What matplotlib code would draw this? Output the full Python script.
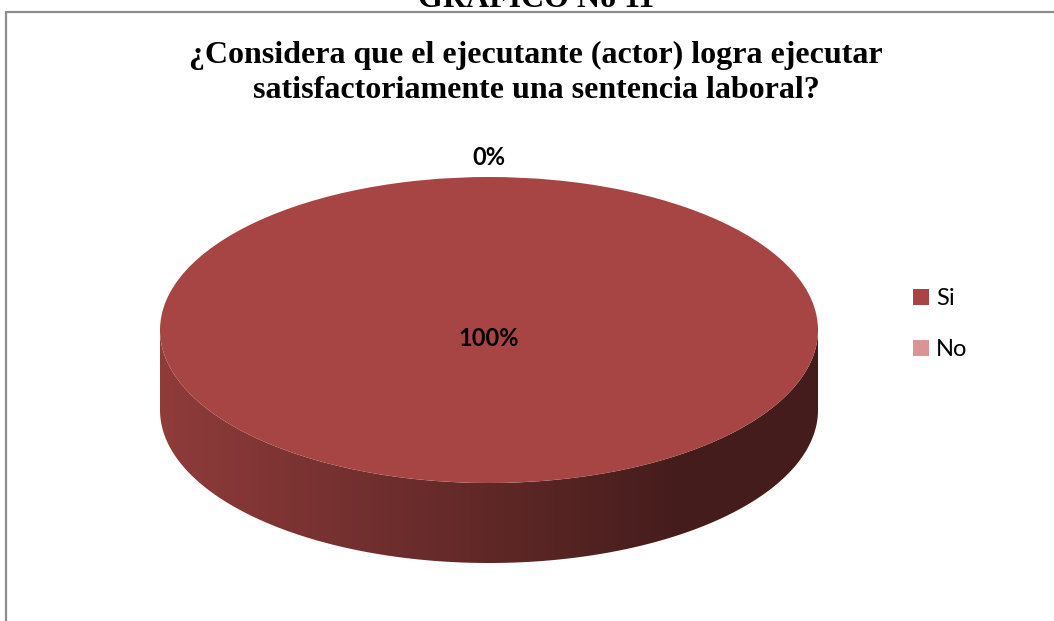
import numpy as np
import matplotlib
matplotlib.use("Agg")
import matplotlib.pyplot as plt
from matplotlib.patches import Polygon, Rectangle
from matplotlib.colors import to_rgb

# Data
labels = ["Si", "No"]
values = [100, 0]
colors = ["#A64544", "#D99594"]
title_lines = ["¿Considera que el ejecutante (actor) logra ejecutar",
               "satisfactoriamente una sentencia laboral?"]
header = "GRAFICO No 11"

W, H = 1054, 621
fig = plt.figure(figsize=(W / 100, H / 100), dpi=100)

# pie geometry in pixels (center, radii, depth of the 3d side)
cx, cy, rx, ry, depth = 489, 330, 329, 153, 80

ax = fig.add_axes([0, 0, 1, 1])
wedges, _ = ax.pie(values, colors=colors, startangle=90, counterclock=False,
                   radius=1, center=(0, 0), wedgeprops=dict(linewidth=0))
ax.set_aspect("auto")
ax.set_xlim((0 - cx) / rx, (W - cx) / rx)
ax.set_ylim((cy - H) / ry, (cy - 0) / ry)
ax.axis("off")

# side of the cylinder (front half), shaded with a gradient
d = depth / ry
t = np.linspace(np.pi, 2 * np.pi, 200)
top = np.column_stack([np.cos(t), np.sin(t)])
bot = np.column_stack([np.cos(t[::-1]), np.sin(t[::-1]) - d])
side = Polygon(np.vstack([top, bot]), closed=True, facecolor="none", edgecolor="none")
ax.add_patch(side)
base = np.array(to_rgb(colors[0]))
u = np.linspace(0, 1, 256)
shade = np.clip(0.86 - (0.86 - 0.42) * u / 0.78, 0.42, None)
grad = (base[None, :] * shade[:, None])[None, :, :]
im = ax.imshow(grad, extent=(-1, 1, -1 - d, 0), aspect="auto", zorder=0.5,
               interpolation="bilinear")
im.set_clip_path(side)
for w in wedges:
    w.set_zorder(1)

# percentage labels
total = sum(values)
pct = [v / total * 100 for v in values]
ax.text(0, (cy - 338) / ry, f"{pct[0]:.0f}%", ha="center", va="center",
        fontsize=17, fontweight="bold", family="Lato", zorder=3)
ax.text(0, 1.13, f"{pct[1]:.0f}%", ha="center", va="center",
        fontsize=17, fontweight="bold", family="Lato", zorder=3)

# legend
leg = ax.legend(wedges, labels, loc="upper left", frameon=False,
                bbox_to_anchor=(913 / W, 1 - 288 / H), bbox_transform=fig.transFigure,
                prop=dict(family="Lato", size=17), handlelength=0.68, handleheight=0.68,
                handletextpad=0.3, labelspacing=1.27, borderaxespad=0, borderpad=0)

# titles
fig.text(536 / W, 1 - 7 / H, header, ha="center", va="baseline",
         fontsize=23, fontweight="bold", family="Liberation Serif")
for i, line in enumerate(title_lines):
    fig.text(536 / W, 1 - (63 + 35 * i) / H, line, ha="center", va="baseline",
             fontsize=23, fontweight="bold", family="Liberation Serif")

# chart frame
fig.patches.append(Rectangle((6 / W, -0.1), 1.2, 1 - 12 / H + 0.1, transform=fig.transFigure,
                             fill=False, edgecolor="#8c8c8c", linewidth=1.6))

fig.savefig("out.png", dpi=100, facecolor="white")
